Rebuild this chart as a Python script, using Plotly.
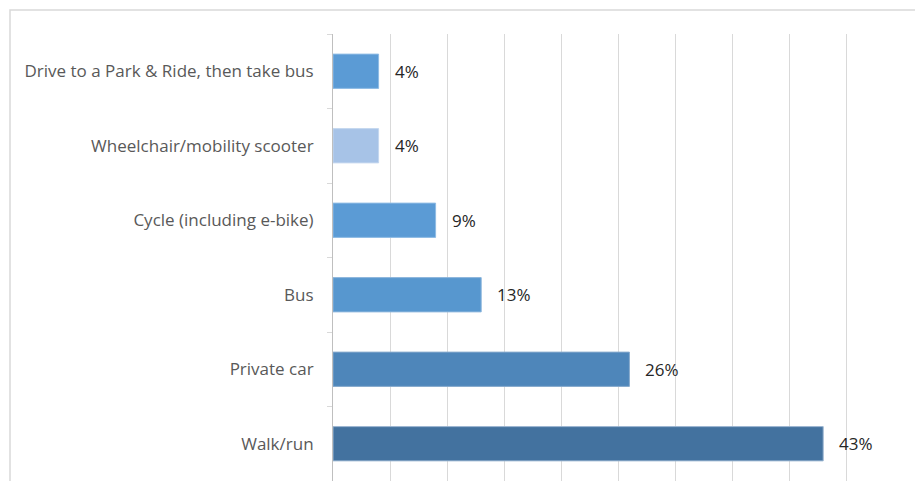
import plotly.graph_objects as go

# Travel mode shares, listed top to bottom
modes = [
    "Drive to a Park & Ride, then take bus",
    "Wheelchair/mobility scooter",
    "Cycle (including e-bike)",
    "Bus",
    "Private car",
    "Walk/run",
]
shares = [4, 4, 9, 13, 26, 43]
bar_colors = ["#5B9BD5", "#A7C3E7", "#5B9BD5", "#5797CF", "#4E86BA", "#43729F"]
edge_colors = ["#8FBBE4", "#C4D7EF", "#8FBBE4", "#8CB5DC", "#86A9CC", "#9DB7D3"]
x_ticks = [0, 5, 10, 15, 20, 25, 30, 35, 40, 45, 50]

W, H = 915, 481
L, R, T, B = 333, 12, 34, 0
FONT = "Open Sans"

fig = go.Figure()
fig.add_trace(go.Bar(
    y=modes,
    x=shares,
    orientation="h",
    marker=dict(color=bar_colors, line=dict(color=edge_colors, width=1)),
    width=0.46,
    hoverinfo="skip",
))

# value labels just right of each bar
for m, v in zip(modes, shares):
    fig.add_annotation(
        x=v, y=m, xref="x", yref="y",
        text=f"{v}%", showarrow=False,
        xanchor="left", yanchor="middle", xshift=14,
        font=dict(family=FONT, size=17, color="#262626"),
    )

# outer chart frame (left and top edges visible)
pw = W - L - R
ph = H - T - B
fig.add_shape(
    type="rect", xref="paper", yref="paper",
    x0=(10 - L) / pw, x1=(W + 5 - L) / pw,
    y0=(H - B - (H + 5)) / ph, y1=(H - B - 10) / ph,
    line=dict(color="#D9D9D9", width=1.5), fillcolor="rgba(0,0,0,0)",
    layer="below",
)

fig.update_layout(
    width=W, height=H,
    margin=dict(l=L, r=R, t=T, b=B, pad=0),
    paper_bgcolor="white", plot_bgcolor="white",
    showlegend=False,
    font=dict(family=FONT, size=17, color="#595959"),
    xaxis=dict(
        range=[0, 50], tickvals=x_ticks, showticklabels=False,
        showgrid=True, gridcolor="#D9D9D9", gridwidth=1,
        zeroline=False, showline=False, fixedrange=True,
    ),
    yaxis=dict(
        autorange="reversed", type="category",
        showline=True, linecolor="#BFBFBF", linewidth=1,
        ticks="outside", tickson="boundaries", ticklen=5, tickcolor="#D9D9D9",
        tickfont=dict(family=FONT, size=17, color="#595959"),
        ticklabelstandoff=15,
        showgrid=False, fixedrange=True,
    ),
)

fig.write_html("out.html")
